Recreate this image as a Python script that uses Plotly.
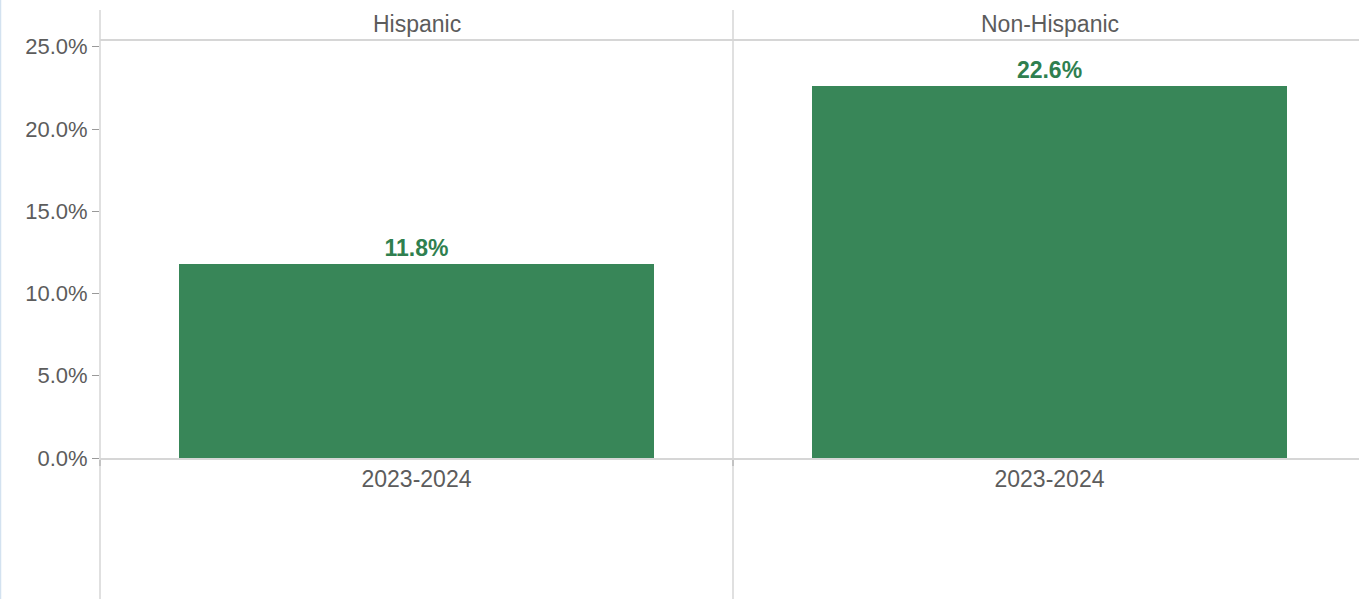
import plotly.graph_objects as go

# Share of respondents by ethnicity, single period per panel
groups = ["Hispanic", "Non-Hispanic"]
periods = ["2023-2024", "2023-2024"]
values = [11.8, 22.6]
y_ticks = [0, 5, 10, 15, 20, 25]
y_tick_text = [f"{v:.1f}%" for v in y_ticks]

BAR_GREEN = "#388658"
LABEL_GREEN = "#2f7f4f"
TEXT_GREY = "#5c5c5c"
RULE_GREY = "#d6d6d6"
FONT = "Liberation Sans, Arial, sans-serif"
FS = 23

W, H = 1359, 599
M_L, M_R, M_T, M_B = 100, 0, 41, 141
plot_w = W - M_L - M_R
panel_w = 633  # pixel width of one facet pane
x_span = plot_w / panel_w

# each facet occupies one unit on a shared numeric x axis
centers = [i + 0.5 for i in range(len(groups))]

fig = go.Figure()
fig.add_trace(go.Bar(
    x=centers,
    y=values,
    width=0.75,
    marker=dict(color=BAR_GREEN, line=dict(width=0)),
    texttemplate="%{y:.1f}%",
    textposition="outside",
    textfont=dict(family=FONT, size=FS, color=LABEL_GREEN, weight="bold"),
    cliponaxis=False,
    hoverinfo="skip",
))

# facet headers
for c, g in zip(centers, groups):
    fig.add_annotation(x=c, xref="x", y=1, yref="paper", yanchor="middle",
                       yshift=17, text=g, showarrow=False,
                       font=dict(family=FONT, size=FS, color=TEXT_GREY))

plot_h = H - M_T - M_B
top_ext = 1 + (M_T - 10) / plot_h
bot_ext = -M_B / plot_h

# left pane border and facet separator, running from header to bottom
fig.add_shape(type="line", xref="paper", yref="paper", x0=0, x1=0,
              y0=bot_ext, y1=top_ext, line=dict(color=RULE_GREY, width=1.5))
for b in range(1, len(groups)):
    fig.add_shape(type="line", xref="x", yref="paper", x0=b, x1=b,
                  y0=bot_ext, y1=top_ext, line=dict(color=RULE_GREY, width=1.5))

# thin light-blue edge along the left of the view
fig.add_shape(type="line", xref="paper", yref="paper",
              x0=-(M_L - 0.5) / plot_w, x1=-(M_L - 0.5) / plot_w,
              y0=bot_ext, y1=1 + M_T / plot_h,
              line=dict(color="#d3e2f0", width=1.5))

fig.update_layout(
    width=W, height=H,
    margin=dict(l=M_L, r=M_R, t=M_T, b=M_B),
    plot_bgcolor="white", paper_bgcolor="white",
    showlegend=False,
    font=dict(family=FONT, size=FS, color=TEXT_GREY),
    bargap=0,
)
fig.update_xaxes(
    range=[0, x_span],
    tickvals=centers, ticktext=periods,
    ticks="", showgrid=False, zeroline=False,
    showline=True, mirror=True, linecolor=RULE_GREY, linewidth=1.5,
    tickfont=dict(family=FONT, size=FS, color=TEXT_GREY),
    minor=dict(tickvals=[0, 1], ticks="outside", ticklen=6,
               tickcolor="#8c8c8c", tickwidth=1.5),
    fixedrange=True,
)
fig.update_yaxes(
    range=[0, 25.35],
    tickvals=y_ticks, ticktext=y_tick_text,
    ticks="outside", ticklen=7, tickcolor="#9a9a9a", tickwidth=1,
    showgrid=False, zeroline=False, showline=False,
    tickfont=dict(family=FONT, size=FS - 1, color=TEXT_GREY),
    fixedrange=True,
)

fig.write_html("out.html", config={"displayModeBar": False})
